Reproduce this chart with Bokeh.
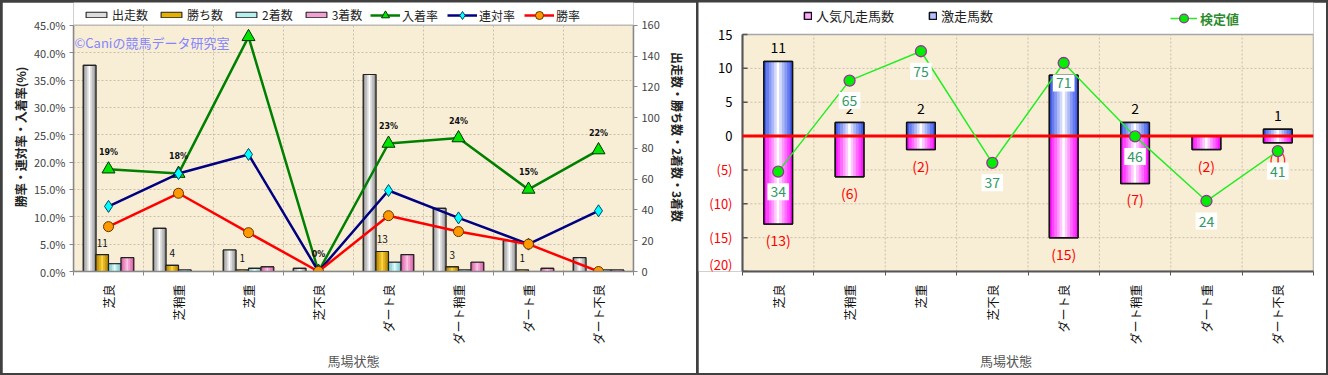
import math
from bokeh.plotting import figure
from bokeh.models import (Range1d, LinearAxis, FixedTicker, PrintfTickFormatter,
                          Legend, LegendItem, ColumnDataSource, LabelSet, Text)
from bokeh.layouts import row
from bokeh.embed import file_html
from bokeh.resources import INLINE
from bokeh.core.properties import value

# ---------------- data ----------------
categories = ["芝良", "芝稍重", "芝重", "芝不良", "ダート良", "ダート稍重", "ダート重", "ダート不良"]

# left chart: counts
runs = [134, 28, 14, 2, 128, 41, 20, 9]
wins = [11, 4, 1, 0, 13, 3, 1, 0]
seconds = [5, 1, 2, 0, 6, 1, 0, 1]
thirds = [9, 0, 3, 0, 11, 6, 2, 1]
# left chart: rates (%)
place_rate = [18.7, 17.9, 42.9, 0.0, 23.4, 24.4, 15.0, 22.2]
quinella_rate = [11.9, 17.9, 21.4, 0.0, 14.8, 9.8, 5.0, 11.1]
win_rate = [8.2, 14.3, 7.1, 0.0, 10.2, 7.3, 5.0, 0.0]
pct_ticks = [0, 5, 10, 15, 20, 25, 30, 35, 40, 45]
count_ticks = [0, 20, 40, 60, 80, 100, 120, 140, 160]

# right chart
surge = [11, 2, 2, 0, 9, 2, 0, 1]              # 激走馬数
flop = [-13, -6, -2, 0, -15, -7, -2, -1]       # 人気凡走馬数
test_value = [34, 65, 75, 37, 71, 46, 24, 41]  # 検定値
right_ticks = [15, 10, 5, 0, -5, -10, -15, -20]
test_max = 80.7

# ---------------- style ----------------
FONT = "Noto Sans CJK JP"
BG = "#f8eed6"
GRID = "#c8bfae"
n_cat = len(categories)
centers = [i + 0.5 for i in range(n_cat)]
bounds = list(range(n_cat + 1))


def mix(edge, mid, t):
    return "#%02x%02x%02x" % tuple(int(round(m + (e - m) * t)) for e, m in zip(edge, mid))


def cylinder(p, xs, bottom, top, width, edge, mid, legend_fill, outline, lw=1.2, n=9, rng="default"):
    base = p.vbar(x=xs, width=width, bottom=bottom, top=top, fill_color=legend_fill,
                  line_color=outline, line_width=lw, y_range_name=rng)
    for k in range(n):
        pos = -0.5 + (k + 0.5) / n
        t = min(1.0, abs(pos) * 2) ** 0.9
        p.vbar(x=[x + pos * width for x in xs], width=width / n * 1.12, bottom=bottom, top=top,
               fill_color=mix(edge, mid, t), line_color=None, y_range_name=rng)
    p.vbar(x=xs, width=width, bottom=bottom, top=top, fill_color=None,
           line_color=outline, line_width=lw, y_range_name=rng)
    return base


def style_cat_axis(ax, title):
    ax.ticker = FixedTicker(ticks=centers, minor_ticks=bounds)
    ax.major_label_overrides = {c: name for c, name in zip(centers, categories)}
    ax.major_label_orientation = math.pi / 2
    ax.bounds = (bounds[0], bounds[-1])
    ax.major_tick_in = 0
    ax.major_tick_out = 0
    ax.minor_tick_in = 0
    ax.minor_tick_out = 4
    ax.major_label_standoff = 9
    ax.major_label_text_font = FONT
    ax.major_label_text_font_size = "12px"
    ax.major_label_text_color = "#111111"
    ax.axis_label = title
    ax.axis_label_text_font = FONT
    ax.axis_label_text_font_size = "13px"
    ax.axis_label_text_font_style = "normal"
    ax.axis_label_text_color = "#555555"
    ax.axis_label_standoff = 3


def plot_area(p, y0, y1, line_color, hticks=None):
    # beige plot area and grid lines, limited to the data area
    x0, x1 = bounds[0], bounds[-1]
    p.quad(left=[x0], right=[x1], bottom=[y0], top=[y1],
           fill_color=BG, line_color=None, level="image")
    p.segment(x0=bounds, y0=[y0] * len(bounds), x1=bounds, y1=[y1] * len(bounds),
              line_color=GRID, line_dash="2 2", level="underlay")
    if hticks is not None:
        p.segment(x0=[x0] * len(hticks), y0=hticks, x1=[x1] * len(hticks), y1=hticks,
                  line_color=GRID, line_dash="2 2", level="underlay")
    p.quad(left=[x0], right=[x1], bottom=[y0], top=[y1],
           fill_color=None, line_color=line_color, line_width=1.5, level="underlay")


# ---------------- left chart ----------------
# data area: 248 px tall; 23 px of frame above it hold the legend
P1_DATA_H, P1_TOP = 248, 23
pct_top = pct_ticks[-1] * (P1_DATA_H + P1_TOP) / P1_DATA_H
cnt_top = count_ticks[-1] * (P1_DATA_H + P1_TOP) / P1_DATA_H
p1 = figure(width=694, height=371, x_range=Range1d(0, n_cat), y_range=Range1d(0, pct_top),
            output_backend="svg", toolbar_location=None,
            min_border_left=71, min_border_right=63, min_border_top=0, min_border_bottom=100,
            background_fill_color="white", border_fill_color="white", outline_line_color=None)
p1.extra_y_ranges = {"cnt": Range1d(0, cnt_top)}
plot_area(p1, 0, pct_ticks[-1], "#b8b8b8")
p1.xgrid.visible = False
p1.ygrid.ticker = FixedTicker(ticks=pct_ticks)
p1.ygrid.grid_line_color = GRID
p1.ygrid.grid_line_dash = "2 2"

yax = p1.yaxis[0]
yax.ticker = FixedTicker(ticks=pct_ticks)
yax.formatter = PrintfTickFormatter(format="%.1f%%")
yax.axis_label = "勝率・連対率・入着率(%)"
yax.bounds = (0, pct_ticks[-1])

yax2 = LinearAxis(y_range_name="cnt", ticker=FixedTicker(ticks=count_ticks),
                  axis_label="出走数・勝ち数・2着数・3着数", bounds=(0, count_ticks[-1]))
p1.add_layout(yax2, "right")
for ax in (yax, yax2):
    ax.major_label_text_font = FONT
    ax.major_label_text_font_size = "11px"
    ax.major_label_text_color = "#444444"
    ax.axis_line_color = "#888888"
    ax.axis_line_width = 1.5
    ax.major_tick_line_color = "#888888"
    ax.major_tick_in = 0
    ax.major_tick_out = 4
    ax.minor_tick_line_color = None
    ax.major_label_standoff = 4
    ax.axis_label_text_font = FONT
    ax.axis_label_text_font_size = "12px"
    ax.axis_label_text_font_style = "bold"
    ax.axis_label_text_color = "#222222"
yax.axis_label_standoff = 2
yax2.axis_label_standoff = 6
if "axis_label_orientation" in LinearAxis.properties():
    yax2.axis_label_orientation = "vertical"

style_cat_axis(p1.xaxis[0], "馬場状態")
p1.xaxis[0].axis_line_color = "#888888"
p1.xaxis[0].axis_line_width = 1.5
p1.xaxis[0].minor_tick_line_color = "#888888"

bw = 0.18
bar_series = [
    ("出走数", runs, (140, 140, 140), (255, 255, 255), -1.5, "#dcdcdc"),
    ("勝ち数", wins, (170, 120, 0), (255, 214, 60), -0.5, "#e6b000"),
    ("2着数", seconds, (110, 190, 195), (225, 255, 255), 0.5, "#b4f0f0"),
    ("3着数", thirds, (215, 90, 165), (255, 195, 228), 1.5, "#f0a0d2"),
]
bar_items = []
for label, vals, edge, mid, off, lcol in bar_series:
    r = cylinder(p1, [c + off * bw for c in centers], 0, vals, bw, edge, mid, lcol, "#222222",
                 lw=1.1, n=7, rng="cnt")
    bar_items.append(LegendItem(label=label, renderers=[r]))

line_series = [
    ("入着率", place_rate, "#008000", "triangle", 13, "#00e600", "#003300"),
    ("連対率", quinella_rate, "#000080", "diamond", 12, "#00ffff", "#004466"),
    ("勝率", win_rate, "#ff0000", "circle", 10, "#ff9900", "#663300"),
]
line_items = []
for label, vals, lc, mk, sz, fc, oc in line_series:
    rl = p1.line(centers, vals, line_color=lc, line_width=2.5)
    rm = p1.scatter(centers, vals, marker=mk, size=sz, fill_color=fc, line_color=oc, line_width=1)
    line_items.append(LegendItem(label=label, renderers=[rl, rm]))

win_src = ColumnDataSource(dict(x=[c - 0.5 * bw for c in centers], y=wins,
                                t=[str(v) if v else "" for v in wins]))
p1.add_layout(LabelSet(x="x", y="y", text="t", source=win_src, y_range_name="cnt",
                       y_offset=12, text_align="center", text_baseline="middle",
                       text_font=value(FONT), text_font_size="10px", text_color="#111111"))
rate_src = ColumnDataSource(dict(x=centers, y=place_rate, t=["%d%%" % round(v) for v in place_rate]))
p1.add_layout(LabelSet(x="x", y="y", text="t", source=rate_src, y_offset=17,
                       text_align="center", text_baseline="middle",
                       text_font=value("DejaVu Sans"), text_font_size="8px",
                       text_font_style="bold", text_color="#111111"))
wm_src = ColumnDataSource(dict(x=[bounds[0]], y=[pct_ticks[-1]], t=["©Caniの競馬データ研究室"]))
p1.add_layout(LabelSet(x="x", y="y", text="t", source=wm_src, x_offset=1, y_offset=-17,
                       text_align="left", text_baseline="middle",
                       text_font=value(FONT), text_font_size="13px", text_color="#8585ff"))

common_leg = dict(orientation="horizontal", padding=0, margin=0, border_line_color=None,
                  label_text_font=FONT, label_text_color="#222222")
leg1a = Legend(items=bar_items, location=(10, 248), glyph_width=26, glyph_height=7,
               label_height=15, label_standoff=3, spacing=10, label_text_font_size="12px",
               background_fill_color="white", background_fill_alpha=1.0, **common_leg)
leg1b = Legend(items=line_items, location=(297, 246), glyph_width=30, glyph_height=20,
               label_height=15, label_standoff=2, spacing=9, label_text_font_size="12px",
               background_fill_alpha=0, **common_leg)
p1.add_layout(leg1a)
p1.add_layout(leg1b)

# ---------------- right chart ----------------
# data area: 571 x 237 px; frame extended 44 px to the left (tick labels) and 32 px up (legend)
P2_DATA_W, P2_LEFT = 571, 44
P2_DATA_H, P2_TOP = 237, 32
px_x = P2_DATA_W / n_cat
r_lo, r_hi = right_ticks[-1], right_ticks[0]
r_top = r_lo + (r_hi - r_lo) * (P2_DATA_H + P2_TOP) / P2_DATA_H
p2 = figure(width=628, height=371, x_range=Range1d(-P2_LEFT / px_x, n_cat),
            y_range=Range1d(r_lo, r_top),
            output_backend="svg", toolbar_location=None,
            min_border_left=0, min_border_right=13, min_border_top=0, min_border_bottom=102,
            background_fill_color="white", border_fill_color="white", outline_line_color=None)
p2.extra_y_ranges = {"test": Range1d(0, test_max * (P2_DATA_H + P2_TOP) / P2_DATA_H)}
plot_area(p2, r_lo, r_hi, "#a8a8a8", hticks=right_ticks)
p2.xgrid.visible = False
p2.ygrid.visible = False
p2.yaxis.visible = False

# y axis drawn inside the extended frame: line, inward ticks, labels (negatives in red)
p2.segment(x0=[bounds[0]], y0=[r_lo], x1=[bounds[0]], y1=[r_hi], line_color="#555555", line_width=2)
p2.segment(x0=[bounds[0]] * len(right_ticks), y0=right_ticks,
           x1=[bounds[0] + 5 / px_x] * len(right_ticks), y1=right_ticks,
           line_color="#555555", line_width=1.5)
p2.text(x=[bounds[0]] * len(right_ticks), y=right_ticks,
        text=[str(t) if t >= 0 else "(%d)" % abs(t) for t in right_ticks],
        text_color=["#000000" if t >= 0 else "#ff0000" for t in right_ticks],
        x_offset=-10, y_offset=[-7 if t == r_lo else 0 for t in right_ticks],
        text_align="right", text_baseline="middle",
        text_font=value(FONT), text_font_size="13px")

style_cat_axis(p2.xaxis[0], "馬場状態")
p2.xaxis[0].axis_line_color = "#555555"
p2.xaxis[0].axis_line_width = 2
p2.xaxis[0].minor_tick_line_color = "#555555"

bw2 = 0.4
r_flop = cylinder(p2, centers, flop, 0, bw2, (255, 0, 255), (255, 255, 255), "#ffaaff",
                  "#111111", lw=1.5, n=11)
r_surge = cylinder(p2, centers, 0, surge, bw2, (50, 80, 235), (255, 255, 255), "#b4c0ff",
                   "#111111", lw=1.5, n=11)

# zero line
p2.segment(x0=[bounds[0]], y0=[0], x1=[bounds[-1]], y1=[0], line_color="#ff0000", line_width=3)

# count labels (drawn under the 検定値 line)
p2.text(x=centers, y=surge, text=[str(v) if v else "" for v in surge], y_offset=-14,
        text_align="center", text_baseline="middle", text_font=value(FONT),
        text_font_size="14px", text_color="#000000")
p2.text(x=centers, y=flop, text=["(%d)" % abs(v) if v else "" for v in flop], y_offset=16,
        text_align="center", text_baseline="middle", text_font=value(FONT),
        text_font_size="14px", text_color="#ff0000")

r_tl = p2.line(centers, test_value, y_range_name="test", line_color="#22ee22", line_width=1.5)
r_tm = p2.scatter(centers, test_value, y_range_name="test", marker="circle", size=11,
                  fill_color="#00ee00", line_color="#993399", line_width=1.3)

tv_kwargs = dict(x=centers, y=test_value, text=[str(v) for v in test_value], y_range_name="test",
                 y_offset=20, text_align="center", text_baseline="middle", text_font=value(FONT),
                 text_font_size="14px", text_color="#339966")
tprops = Text.properties()
if "background_fill_color" in tprops:
    tv_kwargs["background_fill_color"] = "white"
if "padding" in tprops:
    tv_kwargs["padding"] = 3
p2.text(**tv_kwargs)

leg2 = Legend(items=[LegendItem(label="人気凡走馬数", renderers=[r_flop]),
                     LegendItem(label="激走馬数", renderers=[r_surge])],
              location=(P2_LEFT + 61, 246), glyph_width=9, glyph_height=9, label_height=14,
              label_standoff=4, spacing=34, label_text_font_size="13px",
              background_fill_alpha=0, **common_leg)
leg3 = Legend(items=[LegendItem(label="検定値", renderers=[r_tl, r_tm])],
              location=(P2_LEFT + 428, 242), glyph_width=27, glyph_height=22, label_height=14,
              label_standoff=3, label_text_font_size="13px",
              background_fill_alpha=0, **common_leg)
leg3.label_text_color = "#2e8b2e"
leg3.label_text_font_style = "bold"
p2.add_layout(leg2)
p2.add_layout(leg3)

layout = row(p1, p2, spacing=2, styles={"background-color": "#404040", "padding": "2px"})

open("out.html", "w").write(file_html(layout, INLINE))
